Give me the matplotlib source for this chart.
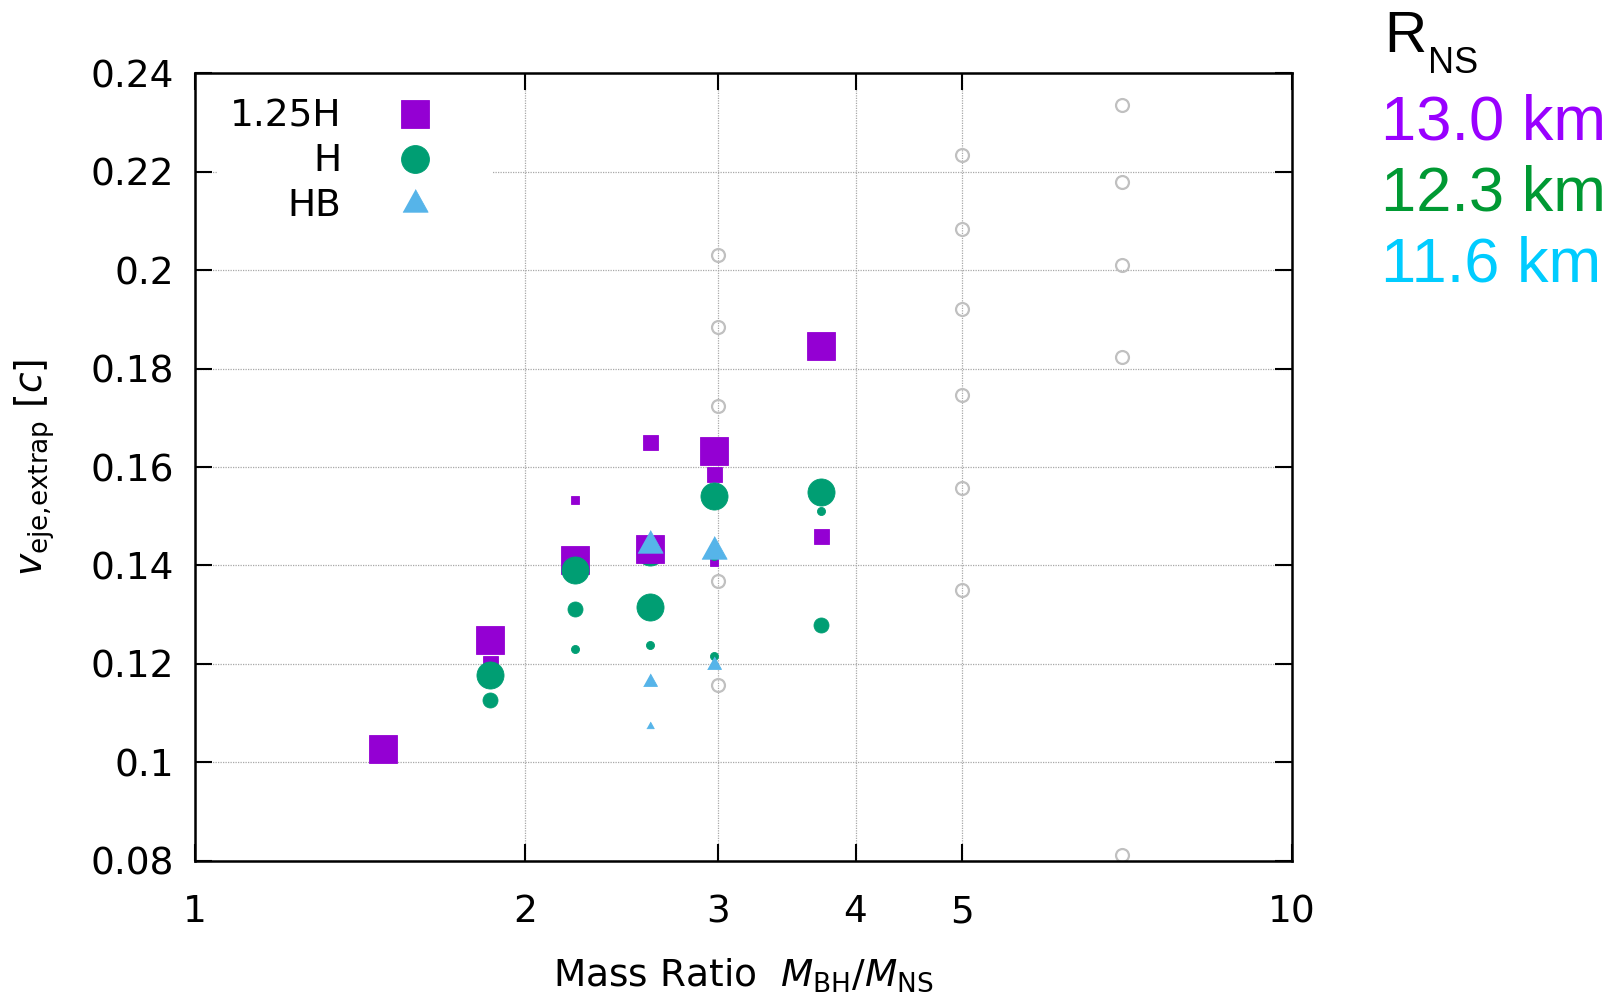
import matplotlib
matplotlib.use('Agg')
import matplotlib.pyplot as plt
from matplotlib.patches import Rectangle
from matplotlib.ticker import FixedLocator, NullLocator, FuncFormatter

# ---------------- data ----------------
# size class of each point: L (large), M (medium), S (small)
# 1.25H  (R_NS = 13.0 km)
h125_q = [1.485, 1.857, 1.857, 2.222, 2.222, 2.599, 2.599, 2.972, 2.972, 2.972, 3.719, 3.719]
h125_v = [0.1028, 0.1248, 0.1201, 0.1533, 0.1411, 0.1650, 0.1433, 0.1633, 0.1585, 0.1408, 0.1845, 0.1460]
h125_lvl = ['L', 'L', 'M', 'S', 'L', 'M', 'L', 'L', 'M', 'S', 'L', 'M']

# H  (R_NS = 12.3 km)
h_q = [1.857, 1.857, 2.222, 2.222, 2.222, 2.599, 2.599, 2.972, 2.972, 2.972, 3.719, 3.719, 3.719]
h_v = [0.1178, 0.1127, 0.1391, 0.1312, 0.1230, 0.1316, 0.1238, 0.1542, 0.1419, 0.1215, 0.1550, 0.1511, 0.1278]
h_lvl = ['L', 'M', 'L', 'M', 'S', 'L', 'S', 'L', 'S', 'S', 'L', 'S', 'M']
# H point hidden beneath a 1.25H square
h_under_q = [2.599]
h_under_v = [0.1428]
h_under_lvl = ['L']

# HB  (R_NS = 11.6 km)
hb_q = [2.599, 2.599, 2.599, 2.972, 2.972]
hb_v = [0.1448, 0.1167, 0.1076, 0.1435, 0.1201]
hb_lvl = ['L', 'M', 'S', 'L', 'M']

# reference points (grey open circles)
ref_q = [3, 3, 3, 3, 3, 5, 5, 5, 5, 5, 5, 7, 7, 7, 7, 7]
ref_v = [0.2031, 0.1884, 0.1723, 0.1369, 0.1157,
         0.2234, 0.2083, 0.1922, 0.1746, 0.1557, 0.1350,
         0.2335, 0.2179, 0.2010, 0.1824, 0.0811]

legend_labels = ['1.25H', 'H', 'HB']
radius_labels = ['13.0 km', '12.3 km', '11.6 km']
xticks = [1, 2, 3, 4, 5, 10]
yticks = [0.08, 0.10, 0.12, 0.14, 0.16, 0.18, 0.20, 0.22, 0.24]

# ---------------- style ----------------
PURPLE = '#9400D3'
GREEN = '#009E73'
BLUE = '#56B4E9'
GREY = '#C0C0C0'
TXT_COLORS = ['#9900FF', '#009933', '#00CCFF']
SIZE = {'L': 19.5, 'M': 10.8, 'S': 5.8}
TRI = [(-1, -0.85), (1, -0.85), (0, 0.95)]
FS = 27

plt.rcParams['font.family'] = ['DejaVu Sans']
plt.rcParams['mathtext.fontset'] = 'dejavusans'

fig = plt.figure(figsize=(16.24, 9.93), dpi=100)
ax = fig.add_axes([0.1201, 0.1332, 0.6755, 0.7930])
ax.set_xscale('log')
ax.set_xlim(1, 10)
ax.set_ylim(0.08, 0.24)


def draw(qs, vs, lvls, marker, color, z, scale=1.0):
    for q, v, l in zip(qs, vs, lvls):
        ax.plot([q], [v], linestyle='none', marker=marker, color=color,
                markersize=SIZE[l] * scale, markeredgewidth=0.6,
                markeredgecolor=color, zorder=z)


ax.plot(ref_q, ref_v, linestyle='none', marker='o', markersize=9.3,
        markerfacecolor='none', markeredgecolor=GREY, markeredgewidth=1.6, zorder=2)
draw(h_under_q, h_under_v, h_under_lvl, 'o', GREEN, 2.5)
draw(h125_q, h125_v, h125_lvl, 's', PURPLE, 3)
draw(h_q, h_v, h_lvl, 'o', GREEN, 4)
draw(hb_q, hb_v, hb_lvl, TRI, BLUE, 5, scale=0.93)

# axes styling
ax.xaxis.set_major_locator(FixedLocator(xticks))
ax.xaxis.set_minor_locator(NullLocator())
ax.xaxis.set_major_formatter(FuncFormatter(lambda x, p: f'{x:g}'))
ax.yaxis.set_major_locator(FixedLocator(yticks))
ax.yaxis.set_minor_locator(NullLocator())
ax.yaxis.set_major_formatter(FuncFormatter(lambda y, p: f'{y:g}'))
ax.tick_params(axis='both', which='major', direction='in', length=12, width=1.5,
               top=True, right=True, labelsize=FS, colors='black')
ax.tick_params(axis='x', pad=24)
ax.tick_params(axis='y', pad=15)
for s in ax.spines.values():
    s.set_linewidth(1.8)
    s.set_zorder(10)
ax.set_axisbelow(True)
ax.grid(True, which='major', color='#A8A8A8', linestyle=(0, (1, 1)), linewidth=0.9)

ax.set_xlabel(r'Mass Ratio  $M_{\rm BH}/M_{\rm NS}$', fontsize=FS, va='baseline')
ax.xaxis.set_label_coords(0.5, -0.1591)
ax.set_ylabel(r'$v_{\rm eje{,}extrap}$ [$c$]', fontsize=FS, va='center', ha='center')
ax.yaxis.set_label_coords(-0.146, 0.5)

# key (legend)
ax.add_patch(Rectangle((0.020, 0.807), 0.251, 0.172, transform=ax.transAxes,
                       facecolor='white', edgecolor='none', zorder=1))
key_text_y = [0.9322, 0.8759, 0.8187]
key_mark_y = [0.9479, 0.8912, 0.8382]
key_markers = ['s', 'o', TRI]
key_colors = [PURPLE, GREEN, BLUE]
key_scale = [1.03, 1.03, 0.93]
for lab, ty, my, mk, c, sc in zip(legend_labels, key_text_y, key_mark_y,
                                  key_markers, key_colors, key_scale):
    ax.text(0.1331, ty, lab, transform=ax.transAxes, ha='right', va='baseline',
            fontsize=FS, zorder=6)
    ax.plot([0.2005], [my], transform=ax.transAxes, linestyle='none', marker=mk,
            color=c, markersize=SIZE['L'] * sc, markeredgewidth=0.6,
            markeredgecolor=c, clip_on=False, zorder=6)

# R_NS annotation
fig.text(1384 / 1624, 1 - 51.7 / 993, 'R', fontsize=42, family='Liberation Sans',
         ha='left', va='baseline', color='black')
fig.text(1428.5 / 1624, 1 - 72.7 / 993, 'NS', fontsize=26, family='Liberation Sans',
         ha='left', va='baseline', color='black')
for lab, c, by in zip(radius_labels, TXT_COLORS, [140, 210.7, 281.7]):
    fig.text(1381 / 1624, 1 - by / 993, lab, fontsize=45.5, family='Liberation Sans',
             ha='left', va='baseline', color=c)

fig.savefig('out.png', dpi=100)
